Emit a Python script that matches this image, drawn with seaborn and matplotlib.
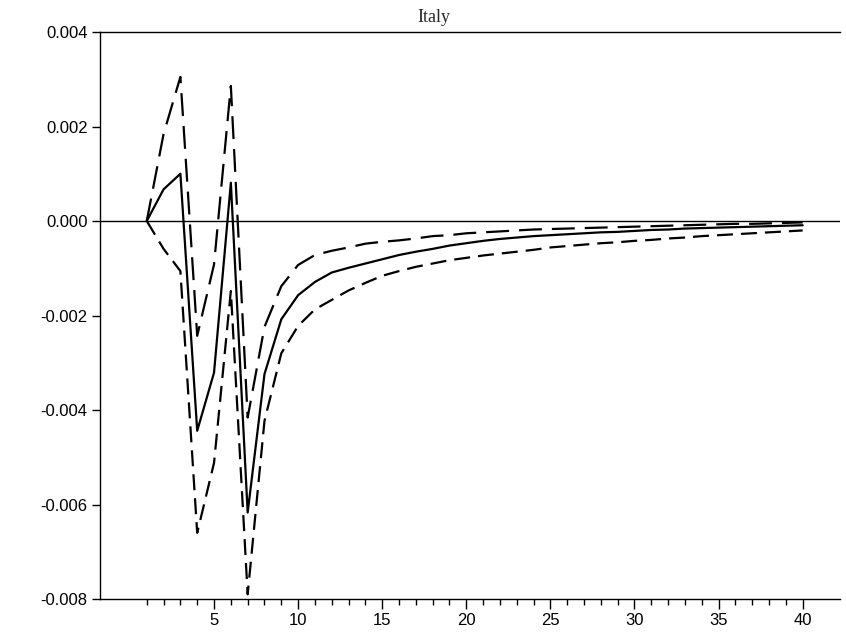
import numpy as np
import pandas as pd
import matplotlib
matplotlib.use("Agg")
import matplotlib.pyplot as plt
from matplotlib.ticker import FuncFormatter, FixedLocator
import seaborn as sns

periods = list(range(1, 41))
response = [0, 0.00067, 0.00100, -0.00444, -0.00321, 0.00081, -0.00617, -0.00324, -0.00208, -0.00157,
            -0.00129, -0.00109, -0.00099, -0.00090, -0.00081, -0.00072, -0.00065, -0.00059, -0.00052, -0.00047,
            -0.00042, -0.00038, -0.00035, -0.00032, -0.00030, -0.00028, -0.00026, -0.00024, -0.00023, -0.00021,
            -0.00019, -0.00018, -0.00016, -0.00015, -0.00014, -0.00013, -0.00012, -0.00011, -0.00010, -0.00009]
upper = [0, 0.00184, 0.00305, -0.00243, -0.00092, 0.00286, -0.00416, -0.00224, -0.00138, -0.00093,
         -0.00072, -0.00063, -0.00056, -0.00048, -0.00044, -0.00041, -0.00037, -0.00032, -0.00030, -0.00026,
         -0.00024, -0.00022, -0.00020, -0.00018, -0.00017, -0.00016, -0.00015, -0.00014, -0.00013, -0.00012,
         -0.00011, -0.00010, -0.00009, -0.00008, -0.00007, -0.00006, -0.00006, -0.00005, -0.00004, -0.00003]
lower = [0, -0.00059, -0.00106, -0.00660, -0.00512, -0.00148, -0.00790, -0.00423, -0.00280, -0.00222,
         -0.00187, -0.00167, -0.00147, -0.00131, -0.00116, -0.00106, -0.00097, -0.00090, -0.00083, -0.00078,
         -0.00073, -0.00069, -0.00065, -0.00061, -0.00056, -0.00053, -0.00050, -0.00047, -0.00045, -0.00042,
         -0.00040, -0.00037, -0.00035, -0.00032, -0.00030, -0.00028, -0.00026, -0.00024, -0.00022, -0.00020]
title = "Italy"
y_ticks = [0.004, 0.002, 0.0, -0.002, -0.004, -0.006, -0.008]
x_major = [5, 10, 15, 20, 25, 30, 35, 40]

df = pd.DataFrame({"period": periods, "response": response, "upper": upper, "lower": lower})

sns.set_style("ticks")
plt.rcParams["font.family"] = ["Liberation Sans", "DejaVu Sans"]

fig = plt.figure(figsize=(8.46, 6.32), dpi=100)
ax = fig.add_axes([100 / 846, 1 - 599 / 632, 740 / 846, (599 - 32) / 632])

ax.axhline(0, color="black", lw=1.0, zorder=1)

sns.lineplot(data=df, x="period", y="response", color="black", lw=1.6, ax=ax)
sns.lineplot(data=df, x="period", y="upper", color="black", lw=1.6, ax=ax)
ax.lines[-1].set_dashes((10.3, 4.5))
sns.lineplot(data=df, x="period", y="lower", color="black", lw=1.6, ax=ax)
ax.lines[-1].set_dashes((7.2, 3.6))

ax.set_xlim(-1.78, 42.22)
ax.set_ylim(-0.008, 0.004)
ax.set_xlabel("")
ax.set_ylabel("")

ax.yaxis.set_major_locator(FixedLocator(y_ticks))
ax.yaxis.set_major_formatter(FuncFormatter(lambda v, p: f"{round(v, 3):.3f}".replace("-0.000", "0.000")))
ax.xaxis.set_major_locator(FixedLocator(x_major))
ax.xaxis.set_minor_locator(FixedLocator(periods))
ax.xaxis.set_major_formatter(FuncFormatter(lambda v, p: f"{int(v)}"))

ax.tick_params(axis="y", direction="out", length=6, width=1, labelsize=12, pad=3, colors="black")
ax.tick_params(axis="x", which="major", direction="out", length=7, width=1, labelsize=12, pad=3, colors="black")
ax.tick_params(axis="x", which="minor", direction="out", length=4.5, width=1, colors="black")

for side in ["left", "top", "bottom"]:
    ax.spines[side].set_visible(True)
    ax.spines[side].set_color("black")
    ax.spines[side].set_linewidth(1.0)
ax.spines["right"].set_visible(False)

fig.text(434 / 846, 1 - 18 / 632, title, ha="center", va="center",
         family=["Liberation Serif", "DejaVu Serif"], fontsize=13)

fig.savefig("out.png", dpi=100)
